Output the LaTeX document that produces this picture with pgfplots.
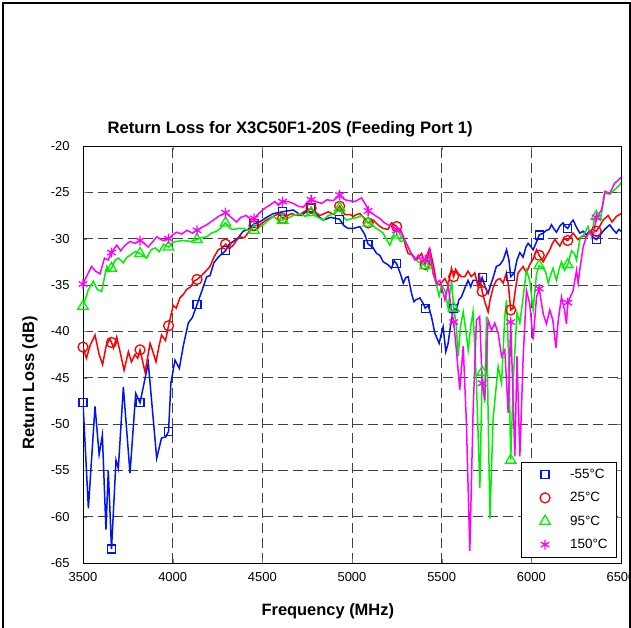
\documentclass[border=0pt]{standalone}
\usepackage{fontspec}
\setmainfont{Liberation Sans}
\usepackage{pgfplots}
\pgfplotsset{compat=1.18}
\definecolor{cblue}{RGB}{0,20,240}
\definecolor{cred}{RGB}{255,0,0}
\definecolor{cgreen}{RGB}{0,240,0}
\definecolor{cmag}{RGB}{255,0,255}
\pgfplotsset{
  markonly/.style={only marks, line width=1.3bp,
    legend image code/.code={\path[draw=none, fill=none] (0bp,-1bp) rectangle (40bp,1bp);
      \draw[##1] plot coordinates {(19bp,0bp)};}},
}
\begin{document}
\begin{tikzpicture}
\begin{axis}[
  at={(0,0)}, anchor=south west,
  scale only axis, width=538bp, height=417bp,
  xmin=3500, xmax=6500, ymin=-65, ymax=-20,
  xtick={3500,4000,...,6500}, ytick={-65,-60,...,-20},
  grid=major,
  major grid style={black!75, dash pattern=on 10bp off 5bp, line width=0.8bp},
  axis line style={line width=0.8bp},
  tick align=inside, major tick length=4bp,
  /pgf/number format/assume math mode=true,
  /pgf/number format/set thousands separator={},
  tick label style={font=\fontsize{13}{15}\selectfont},
  xticklabel style={yshift=-6bp},
  yticklabel style={xshift=-10bp},
  title={Return Loss for X3C50F1-20S (Feeding Port 1)},
  title style={font=\bfseries\fontsize{16.7}{19}\selectfont, at={(axis description cs:0.385,1.015)}, anchor=base},
  xlabel={Frequency (MHz)},
  xlabel style={font=\bfseries\fontsize{16.5}{19}\selectfont, at={(axis description cs:0.455,-0.127)}, anchor=base},
  ylabel={Return Loss (dB)},
  ylabel style={font=\bfseries\fontsize{16.5}{19}\selectfont, at={(axis description cs:-0.091,0.432)}, anchor=base},
  legend style={at={(0.9926,0.243)}, anchor=north east, font=\fontsize{13.5}{16}\selectfont,
    draw=black, line width=0.8bp, row sep=8.5bp, inner xsep=5bp, inner ysep=5bp,
    nodes={inner xsep=4bp}},
  legend cell align=left,
]
% -55 C
\addplot[cblue, line width=1.5bp, forget plot] coordinates {
(3500,-47.7) (3530,-59.1) (3567,-48.1) (3590,-53.3) (3608,-51.2) (3628,-61.4) (3641,-55.0) (3659,-63.5)
(3684,-53.9) (3697,-54.8) (3725,-46.0) (3762,-55.3) (3794,-46.7) (3818,-47.7) (3864,-43.4) (3911,-53.7)
(3938,-51.5) (3962,-51.4) (3977,-50.8) (3990,-45.6) (4013,-43.1) (4037,-44.0) (4060,-41.5) (4087,-39.1)
(4110,-38.5) (4136,-37.1) (4160,-35.8) (4190,-34.1) (4208,-34.0) (4230,-32.6) (4254,-32.0) (4295,-31.3)
(4315,-30.6) (4338,-30.3) (4365,-29.9) (4393,-29.2) (4420,-29.0) (4454,-28.4) (4485,-28.2) (4515,-27.8)
(4560,-27.3) (4613,-27.1) (4672,-26.9) (4718,-27.5) (4750,-27.0) (4772,-26.7) (4800,-27.4) (4840,-28.0)
(4880,-27.7) (4931,-27.9) (4955,-28.6) (4979,-28.9) (5007,-28.9) (5044,-28.7) (5070,-29.5) (5090,-30.6)
(5115,-30.9) (5137,-31.6) (5155,-31.8) (5174,-32.5) (5200,-32.8) (5220,-33.2) (5235,-32.4) (5249,-32.7)
(5270,-33.8) (5286,-34.8) (5300,-34.2) (5313,-34.1) (5332,-35.9) (5345,-36.8) (5356,-36.6) (5379,-36.4)
(5397,-37.0) (5408,-37.5) (5425,-37.2) (5443,-38.4) (5462,-40.2) (5486,-41.3) (5499,-40.2) (5508,-39.5)
(5523,-42.2) (5536,-41.3) (5550,-39.3) (5567,-37.5) (5582,-37.7) (5596,-36.6) (5610,-36.3) (5630,-35.3)
(5647,-34.5) (5662,-35.2) (5675,-34.5) (5694,-34.5) (5712,-35.0) (5726,-34.2) (5742,-35.2) (5759,-35.9)
(5773,-35.0) (5787,-34.2) (5805,-33.0) (5825,-32.8) (5843,-32.3) (5862,-31.2) (5875,-32.3) (5885,-34.1)
(5905,-33.7) (5920,-32.3) (5936,-31.5) (5954,-32.0) (5970,-30.9) (5982,-30.5) (5995,-30.8) (6010,-31.2)
(6028,-30.4) (6044,-29.6) (6066,-29.4) (6084,-29.1) (6100,-29.0) (6112,-28.5) (6128,-29.0) (6140,-29.3)
(6160,-28.6) (6177,-28.3) (6190,-28.7) (6203,-28.9) (6220,-28.3) (6233,-28.0) (6250,-28.7) (6270,-29.4)
(6290,-29.2) (6307,-29.6) (6322,-29.2) (6335,-29.3) (6350,-29.9) (6362,-30.1) (6380,-29.7) (6400,-29.2)
(6420,-28.8) (6437,-28.5) (6455,-29.0) (6474,-29.4) (6488,-29.0) (6500,-29.2)
};
% 25 C
\addplot[cred, line width=1.5bp, forget plot] coordinates {
(3500,-41.7) (3519,-42.9) (3540,-41.5) (3567,-40.4) (3590,-42.5) (3609,-43.6) (3630,-41.5) (3650,-40.8)
(3659,-41.2) (3670,-41.8) (3688,-40.6) (3710,-42.5) (3729,-44.2) (3753,-42.2) (3770,-43.3) (3790,-42.5)
(3805,-42.9) (3818,-42.0) (3846,-44.4) (3874,-41.3) (3890,-42.2) (3907,-43.3) (3925,-41.5) (3938,-40.4)
(3960,-41.0) (3977,-39.4) (4003,-37.2) (4020,-37.5) (4040,-36.4) (4060,-36.0) (4077,-35.5) (4100,-35.2)
(4118,-34.6) (4136,-34.4) (4160,-34.0) (4190,-33.4) (4208,-33.0) (4230,-32.0) (4254,-31.2) (4275,-31.0)
(4295,-30.6) (4320,-31.0) (4338,-30.7) (4355,-30.2) (4375,-29.8) (4400,-29.9) (4431,-29.1) (4454,-28.6)
(4487,-28.5) (4520,-28.0) (4561,-27.6) (4590,-27.3) (4613,-27.8) (4640,-27.5) (4663,-27.3) (4700,-27.5)
(4740,-27.0) (4772,-26.7) (4800,-27.2) (4821,-27.5) (4845,-27.3) (4868,-27.1) (4900,-27.4) (4931,-26.5)
(4960,-27.4) (4990,-27.4) (5007,-27.6) (5025,-27.4) (5044,-27.3) (5070,-27.8) (5090,-28.3) (5118,-28.0)
(5150,-28.6) (5174,-28.9) (5200,-29.0) (5220,-28.3) (5249,-28.7) (5270,-29.2) (5286,-29.8) (5300,-30.9)
(5313,-31.6) (5340,-31.8) (5360,-32.3) (5388,-31.6) (5408,-32.8) (5422,-32.0) (5435,-31.2) (5455,-33.0)
(5471,-34.8) (5490,-35.0) (5505,-34.6) (5518,-34.3) (5536,-35.0) (5555,-33.2) (5567,-34.1) (5578,-33.3)
(5590,-33.7) (5610,-34.1) (5629,-34.1) (5647,-33.5) (5665,-34.1) (5685,-33.7) (5703,-35.2) (5712,-34.1)
(5726,-35.7) (5742,-36.9) (5759,-37.9) (5770,-36.6) (5788,-35.2) (5805,-34.5) (5825,-34.3) (5843,-34.8)
(5861,-33.7) (5872,-35.0) (5885,-37.7) (5898,-37.5) (5908,-35.9) (5926,-33.7) (5954,-33.0) (5973,-33.7)
(5991,-32.8) (6010,-32.2) (6029,-31.2) (6044,-31.8) (6066,-32.5) (6085,-31.8) (6103,-31.2) (6118,-30.5)
(6131,-30.1) (6159,-30.8) (6180,-30.0) (6203,-30.2) (6218,-29.8) (6233,-29.4) (6260,-30.1) (6285,-29.7)
(6307,-29.8) (6325,-29.3) (6340,-29.0) (6362,-29.2) (6380,-28.7) (6400,-28.0) (6428,-27.5) (6450,-28.2)
(6474,-27.6) (6500,-27.3)
};
% 95 C
\addplot[cgreen, line width=1.5bp, forget plot] coordinates {
(3500,-37.3) (3519,-36.2) (3530,-35.5) (3557,-34.6) (3580,-35.5) (3604,-35.7) (3632,-33.0) (3645,-33.5)
(3659,-33.2) (3680,-32.3) (3697,-32.1) (3725,-32.6) (3745,-32.0) (3762,-31.8) (3790,-31.4) (3818,-31.6)
(3855,-32.1) (3880,-31.2) (3902,-31.0) (3925,-31.4) (3950,-30.6) (3977,-30.9) (4000,-30.4) (4022,-30.3)
(4060,-30.2) (4100,-30.3) (4136,-30.1) (4160,-29.9) (4190,-29.8) (4215,-29.4) (4245,-29.2) (4270,-28.8)
(4295,-28.3) (4320,-28.9) (4338,-29.0) (4365,-28.9) (4393,-28.9) (4420,-29.1) (4454,-29.1) (4480,-28.8)
(4505,-28.5) (4535,-28.0) (4561,-27.6) (4590,-28.0) (4613,-28.0) (4640,-27.8) (4672,-27.5) (4710,-27.3)
(4740,-27.6) (4772,-27.2) (4800,-27.6) (4840,-28.0) (4868,-27.5) (4900,-27.3) (4931,-26.7) (4950,-27.6)
(4970,-28.0) (5007,-27.8) (5030,-27.7) (5053,-27.5) (5070,-27.9) (5090,-28.3) (5110,-28.5) (5137,-28.9)
(5160,-29.2) (5174,-29.4) (5190,-30.0) (5211,-30.7) (5230,-29.8) (5249,-29.6) (5270,-30.3) (5295,-30.2)
(5310,-30.8) (5323,-31.4) (5340,-31.9) (5356,-32.3) (5380,-32.6) (5408,-32.9) (5420,-33.4) (5435,-31.8)
(5453,-33.8) (5471,-35.0) (5486,-36.2) (5500,-35.0) (5518,-35.6) (5536,-37.5) (5555,-34.5) (5567,-37.5)
(5580,-39.0) (5592,-42.7) (5605,-39.5) (5620,-37.9) (5634,-39.8) (5648,-42.0) (5662,-39.5) (5675,-37.9)
(5694,-45.6) (5713,-56.9) (5726,-44.4) (5740,-47.7) (5750,-38.4) (5769,-60.2) (5787,-49.4) (5806,-45.6)
(5815,-43.8) (5834,-45.6) (5852,-38.4) (5862,-36.6) (5875,-43.8) (5885,-53.9) (5900,-45.0) (5920,-38.0)
(5936,-39.1) (5950,-37.0) (5973,-33.4) (5991,-34.5) (6010,-37.7) (6029,-33.8) (6044,-32.9) (6066,-33.2)
(6080,-33.6) (6094,-34.8) (6108,-33.9) (6121,-33.2) (6140,-34.5) (6155,-33.3) (6168,-32.5) (6185,-33.4)
(6203,-32.8) (6224,-31.3) (6240,-31.6) (6252,-32.3) (6270,-30.1) (6298,-29.4) (6316,-28.7) (6335,-29.8)
(6350,-28.0) (6362,-27.6) (6385,-28.0) (6410,-25.1) (6438,-25.2) (6465,-24.7) (6493,-24.2) (6500,-23.9)
};
% 150 C
\addplot[cmag, line width=1.5bp, forget plot] coordinates {
(3500,-34.9) (3519,-34.1) (3548,-33.0) (3570,-33.5) (3595,-33.8) (3620,-32.1) (3640,-32.3) (3659,-31.5)
(3688,-30.7) (3710,-31.3) (3735,-30.7) (3762,-30.3) (3790,-30.5) (3818,-30.2) (3840,-30.5) (3864,-30.9)
(3890,-30.3) (3911,-29.8) (3945,-30.2) (3977,-30.0) (4000,-29.6) (4022,-29.3) (4050,-29.5) (4080,-29.1)
(4110,-29.4) (4136,-29.1) (4160,-28.8) (4190,-28.5) (4227,-28.0) (4255,-27.6) (4295,-27.2) (4320,-27.6)
(4356,-28.2) (4380,-27.7) (4410,-27.5) (4435,-27.9) (4454,-27.8) (4480,-27.3) (4515,-26.7) (4540,-26.4)
(4570,-26.0) (4590,-26.4) (4613,-26.0) (4645,-26.0) (4672,-26.2) (4700,-26.5) (4728,-26.6) (4750,-26.1)
(4772,-25.8) (4800,-26.0) (4830,-26.2) (4860,-25.8) (4895,-25.9) (4931,-25.3) (4960,-25.8) (4985,-25.9)
(5016,-26.0) (5053,-25.6) (5081,-26.5) (5090,-27.0) (5115,-27.3) (5137,-27.6) (5160,-27.9) (5174,-28.2)
(5200,-28.5) (5225,-28.6) (5249,-29.1) (5270,-29.0) (5295,-30.2) (5313,-30.9) (5351,-32.3) (5370,-31.8)
(5390,-32.6) (5408,-32.3) (5430,-31.1) (5453,-33.8) (5471,-34.8) (5490,-34.5) (5518,-36.6) (5536,-35.0)
(5555,-37.9) (5567,-39.0) (5582,-42.0) (5601,-46.3) (5620,-41.6) (5638,-49.9) (5657,-63.7) (5675,-48.8)
(5694,-38.8) (5712,-38.4) (5726,-45.6) (5740,-47.4) (5759,-38.8) (5778,-39.9) (5796,-39.1) (5815,-40.2)
(5834,-42.7) (5852,-42.0) (5871,-48.8) (5885,-39.0) (5908,-53.5) (5920,-42.7) (5936,-53.5) (5954,-43.0)
(5973,-35.6) (5991,-37.0) (6010,-40.9) (6029,-36.3) (6044,-35.4) (6066,-38.1) (6084,-39.2) (6103,-37.7)
(6120,-38.8) (6137,-41.8) (6150,-38.8) (6168,-36.3) (6185,-37.7) (6196,-39.2) (6203,-36.9) (6233,-35.6)
(6252,-33.4) (6261,-34.8) (6270,-33.4) (6289,-30.9) (6307,-29.8) (6326,-29.2) (6345,-29.8) (6362,-27.7)
(6392,-26.9) (6410,-24.9) (6438,-25.1) (6465,-24.0) (6484,-23.7) (6500,-23.4)
};
% markers
\addplot[cblue, markonly, mark=square, mark size=4bp] coordinates {
(3500,-47.7) (3659,-63.5) (3818,-47.7) (3977,-50.8) (4136,-37.1) (4295,-31.3) (4454,-28.4) (4613,-27.1)
(4772,-26.7) (4931,-27.9) (5090,-30.6) (5249,-32.7) (5408,-37.5) (5567,-37.5) (5726,-34.2) (5885,-34.1)
(6044,-29.6) (6203,-28.9) (6362,-30.1)
};
\addlegendentry{-55°C}
\addplot[cred, markonly, mark=o, mark size=5bp] coordinates {
(3500,-41.7) (3659,-41.2) (3818,-42.0) (3977,-39.4) (4136,-34.4) (4295,-30.6) (4454,-28.6) (4613,-27.8)
(4772,-26.7) (4931,-26.5) (5090,-28.3) (5249,-28.7) (5408,-32.8) (5567,-34.1) (5726,-35.7) (5885,-37.7)
(6044,-31.8) (6203,-30.2) (6362,-29.2)
};
\addlegendentry{25°C}
\addplot[cgreen, markonly, mark=triangle, mark size=6bp] coordinates {
(3500,-37.3) (3659,-33.2) (3818,-31.6) (3977,-30.9) (4136,-30.1) (4295,-28.3) (4454,-29.1) (4613,-28.0)
(4772,-27.2) (4931,-26.7) (5090,-28.3) (5249,-29.6) (5408,-32.9) (5567,-37.5) (5726,-44.4) (5885,-53.9)
(6044,-32.9) (6203,-32.8) (6362,-27.6)
};
\addlegendentry{95°C}
\addplot[cmag, markonly, mark=asterisk, mark size=5bp] coordinates {
(3500,-34.9) (3659,-31.5) (3818,-30.2) (3977,-30.0) (4136,-29.1) (4295,-27.2) (4454,-27.8) (4613,-26.0)
(4772,-25.8) (4931,-25.3) (5090,-27.0) (5249,-29.1) (5408,-32.3) (5567,-39.0) (5726,-45.6) (5885,-39.0)
(6044,-35.4) (6203,-36.9) (6362,-27.7)
};
\addlegendentry{150°C}
\end{axis}
\draw[line width=2bp] (-80bp,-70bp) -- (-80bp,560bp) -- (546.5bp,560bp) -- (546.5bp,-70bp);
\pgfresetboundingbox
\useasboundingbox (-83bp,-65bp) rectangle (548bp,563bp);
\end{tikzpicture}
\end{document}
